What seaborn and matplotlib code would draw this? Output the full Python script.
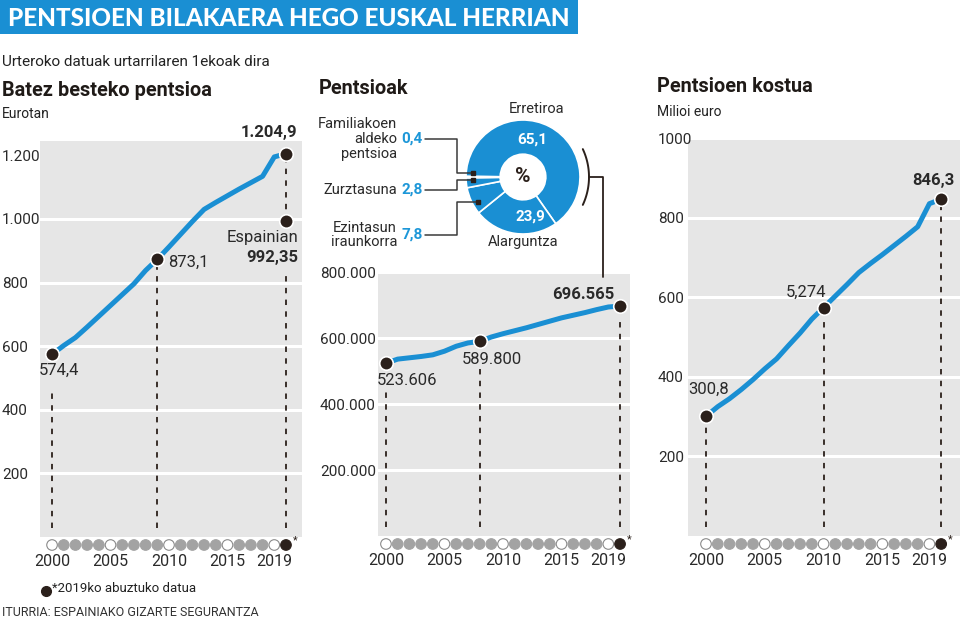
import numpy as np
import matplotlib
matplotlib.use("Agg")
import matplotlib.pyplot as plt
from matplotlib.lines import Line2D
from matplotlib.patches import Rectangle
import seaborn as sns


# -----------------------------
# DATA
# -----------------------------
year_pos = list(range(21))          # 2000 ... 2019 + 2019ko abuztua
tick_pos = [0, 5, 10, 15, 19]
tick_labels = ["2000", "2005", "2010", "2015", "2019"]
open_years = [0, 5, 10, 15, 19]
august_pos = 20

batez_besteko = [574.4, 602, 627, 660, 694, 728, 762, 796, 838, 873.1,
                 912, 952, 992, 1030, 1052, 1073, 1094, 1114, 1134, 1195, 1204.9]
espainia_2019 = 992.35

pentsioak = [523606, 536000, 540000, 544000, 549000, 560000, 575000, 585000,
             589800, 603000, 613000, 622000, 631000, 641000, 651000, 661000,
             669000, 677000, 686000, 694000, 696565]

kostua = [300.8, 325, 345, 368, 393, 420, 445, 478, 510, 545, 574,
          603, 632, 662, 685, 707, 730, 753, 777, 835, 846.3]

pie_labels = ["Erretiroa", "Alarguntza", "Ezintasun iraunkorra",
              "Zurztasuna", "Familiakoen aldeko pentsioa"]
pie_values = [65.1, 23.9, 7.8, 2.8, 0.4]


# -----------------------------
# STYLE
# -----------------------------
sns.set_theme(style="white")
plt.rcParams['font.family'] = ['Roboto', 'DejaVu Sans']
NARROW = ['Roboto', 'DejaVu Sans']

BLUE = '#1a8fd3'
DARK = '#2b201b'
BG = '#e6e6e6'
GRAY_DOT = '#a3a3a3'
TXT = '#2a2a2a'

W, H = 960, 622
fig = plt.figure(figsize=(9.6, 6.22), dpi=100)


def fx(x):
    return x / W


def fy(y):
    return 1 - y / H


def add_ax(left, top, right, bottom):
    return fig.add_axes([left / W, 1 - bottom / H, (right - left) / W, (bottom - top) / H])


def ftext(x, y, s, **kw):
    fig.text(fx(x), fy(y), s, **kw)


def fline(xs, ys, **kw):
    fig.add_artist(Line2D([fx(v) for v in xs], [fy(v) for v in ys],
                          transform=fig.transFigure, **kw))


def setup_panel(ax, values, ylim, yticks, ylabels, xlim, ypad, top_grid=True):
    sns.lineplot(x=year_pos, y=values, ax=ax, color=BLUE, lw=3.6,
                 solid_capstyle='butt', zorder=3)
    ax.set_facecolor(BG)
    ax.set_xlim(*xlim)
    ax.set_ylim(*ylim)
    ax.set_yticks(yticks)
    ax.set_yticklabels(ylabels, family=NARROW, fontsize=11, color=TXT)
    for lab in ax.get_yticklabels():
        lab.set_ha('left')
    ax.set_xticks(tick_pos)
    ax.set_xticklabels(tick_labels, family=NARROW, fontsize=11.5, color=TXT)
    ax.tick_params(axis='y', length=0, pad=ypad)
    ax.tick_params(axis='x', length=0, pad=12)
    ax.grid(axis='y', color='white', lw=2.2)
    ax.grid(axis='x', visible=False)
    if not top_grid:
        ax.yaxis.get_gridlines()[-1].set_visible(False)
    for s in ax.spines.values():
        s.set_visible(False)
    ax.set_xlabel("")
    ax.set_ylabel("")

    # year dots under the axis
    h_px = ax.get_position().height * H
    trans = ax.get_xaxis_transform()
    colors, edges = [], []
    for p in year_pos:
        if p == august_pos:
            colors.append(DARK)
            edges.append(DARK)
        elif p in open_years:
            colors.append('white')
            edges.append('#8a8a8a')
        else:
            colors.append(GRAY_DOT)
            edges.append(GRAY_DOT)
    ax.scatter(year_pos, [-8 / h_px] * len(year_pos), s=58, c=colors,
               edgecolors=edges, linewidths=0.8, transform=trans, clip_on=False, zorder=5)
    ax.text(august_pos + 0.55, -3 / h_px, "*", transform=trans, fontsize=8,
            ha='left', va='center', color=DARK)


def dot(ax, x, y):
    ax.scatter([x], [y], s=95, color=DARK, edgecolors='white', linewidths=1.2, zorder=6)


def vdash(ax, x, y0, y1):
    ax.vlines(x, y0, y1, colors=DARK, linestyles=(0, (3, 3.5)), lw=1.3, zorder=2)


def label(ax, x, y, s, dx, dy, bold=False, ha='center', color=TXT):
    ax.annotate(s, (x, y), xytext=(dx * 0.72, -dy * 0.72), textcoords='offset points',
                ha=ha, va='center', fontsize=12, family=NARROW,
                fontweight='bold' if bold else 'normal', color=color, zorder=7)


# -----------------------------
# HEADER
# -----------------------------
fig.add_artist(Rectangle((0, fy(34)), fx(578), 34 / H, transform=fig.transFigure,
                         color=BLUE, lw=0))
ftext(8, 18, "PENTSIOEN BILAKAERA HEGO EUSKAL HERRIAN", color='white',
      fontsize=17.5, fontweight='black', va='center', ha='left', family=['Lato', 'Roboto'])
ftext(2, 62, "Urteroko datuak urtarrilaren 1ekoak dira", fontsize=11,
      va='center', color='#222222')
ftext(2, 90, "Batez besteko pentsioa", fontsize=14.3, fontweight='bold', va='center', color='#1f1a17')
ftext(2, 114, "Eurotan", fontsize=10, va='center', color='#222222')
ftext(319, 88, "Pentsioak", fontsize=14.3, fontweight='bold', va='center', color='#1f1a17')
ftext(657, 87, "Pentsioen kostua", fontsize=14.3, fontweight='bold', va='center', color='#1f1a17')
ftext(657, 112, "Milioi euro", fontsize=10, va='center', color='#222222')


# -----------------------------
# PANEL 1: BATEZ BESTEKO PENTSIOA
# -----------------------------
ax1 = add_ax(40, 141, 302, 537)
setup_panel(ax1, batez_besteko, (0, 1245), [200, 400, 600, 800, 1000, 1200],
            ["200", "400", "600", "800", "1.000", "1.200"], (-1.03, 21.37), 27.5,
            top_grid=False)
vdash(ax1, 0, 28, 456)
vdash(ax1, 9, 28, batez_besteko[9])
vdash(ax1, 20, 28, 840)
vdash(ax1, 20, espainia_2019, batez_besteko[20])
for p in [0, 9, 20]:
    dot(ax1, p, batez_besteko[p])
dot(ax1, 20, espainia_2019)
label(ax1, 0, batez_besteko[0], "574,4", 7, 16)
label(ax1, 9, batez_besteko[9], "873,1", 11, 3, ha='left')
label(ax1, 20, batez_besteko[20], "1.204,9", -17, -21, bold=True)
label(ax1, 20, espainia_2019, "Espainian", 12, 16, ha='right')
label(ax1, 20, espainia_2019, "992,35", 12, 36, ha='right', bold=True)


# -----------------------------
# PANEL 2: PENTSIOAK
# -----------------------------
ax2 = add_ax(378, 272, 630, 536)
setup_panel(ax2, pentsioak, (0, 800000), [200000, 400000, 600000, 800000],
            ["200.000", "400.000", "600.000", "800.000"], (-0.68, 20.85), 41.8)
vdash(ax2, 0, 27000, 439000)
vdash(ax2, 8, 27000, 506000)
vdash(ax2, 20, 27000, 657000)
for p in [0, 8, 20]:
    dot(ax2, p, pentsioak[p])
label(ax2, 0, pentsioak[0], "523.606", 21, 17)
label(ax2, 8, pentsioak[8], "589.800", 12, 18)
label(ax2, 20, pentsioak[20], "696.565", -37, -12, bold=True)


# -----------------------------
# PANEL 3: PENTSIOEN KOSTUA
# -----------------------------
ax3 = add_ax(688, 138, 960, 536)
setup_panel(ax3, kostua, (0, 1000), [200, 400, 600, 800, 1000],
            ["200", "400", "600", "800", "1000"], (-1.53, 21.6), 21.6)
vdash(ax3, 0, 23, kostua[0])
vdash(ax3, 10, 23, kostua[10])
vdash(ax3, 20, 23, kostua[20])
for p in [0, 10, 20]:
    dot(ax3, p, kostua[p])
label(ax3, 0, kostua[0], "300,8", 3, -27)
label(ax3, 10, kostua[10], "5,274", -18, -15)
label(ax3, 20, kostua[20], "846,3", -8, -19, bold=True)


# -----------------------------
# DONUT: PENTSIO MOTAK
# -----------------------------
axp = add_ax(466, 120, 580, 234)
axp.pie(pie_values, startangle=179.4, counterclock=False, colors=[BLUE] * len(pie_values),
        wedgeprops=dict(width=0.6, edgecolor='white', linewidth=1.2))
axp.set_xlim(-1, 1)
axp.set_ylim(-1, 1)
axp.set_aspect('equal')
axp.axis('off')

ftext(537, 109, pie_labels[0], fontsize=10.5, ha='center', va='center', family=NARROW, color=TXT)
ftext(523, 242, pie_labels[1], fontsize=10.5, ha='center', va='center', family=NARROW, color=TXT)
ftext(532, 140, "65,1", fontsize=11, fontweight='bold', color='white', ha='center', va='center', family=NARROW)
ftext(530, 217, "23,9", fontsize=11, fontweight='bold', color='white', ha='center', va='center', family=NARROW)
ftext(523, 176, "%", fontsize=15, fontweight='bold', color=DARK, ha='center', va='center')

left_kw = dict(fontsize=10.5, ha='right', va='center', family=NARROW, color=TXT, linespacing=1.05)
num_kw = dict(fontsize=11, ha='left', va='center', family=NARROW, color='#1d97d8', fontweight='bold')
ftext(397, 139, "Familiakoen\naldeko\npentsioa", **left_kw)
ftext(401, 139, "0,4", **num_kw)
ftext(397, 190, "Zurztasuna", **left_kw)
ftext(401, 190, "2,8", **num_kw)
ftext(397, 235, "Ezintasun\niraunkorra", **left_kw)
ftext(401, 235, "7,8", **num_kw)

lk = dict(color='#3a3a3a', lw=1.1)
fline([425, 457, 457, 473], [139, 139, 173, 173], **lk)
fline([425, 457, 457, 473], [190, 190, 180, 180], **lk)
fline([425, 457, 457, 478], [235, 235, 202, 202], **lk)
for (sx, sy) in [(473, 173), (473, 180), (478, 202)]:
    fline([sx], [sy], marker='s', markersize=3.5, color=DARK, lw=0)

# bracket towards the 2019 total
ang = np.linspace(np.radians(-25), np.radians(25), 40)
fline(523 + 66 * np.cos(ang), 177 - 66 * np.sin(ang), color=DARK, lw=1.4)
fline([589, 603, 603], [177, 177, 277], color=DARK, lw=1.3)


# -----------------------------
# FOOTER
# -----------------------------
fline([46], [591], marker='o', markersize=7, color=DARK, lw=0)
ftext(52, 589, "*2019ko abuztuko datua", fontsize=9.5, family=NARROW, va='center', color='#222222')
ftext(2, 613, "ITURRIA: ESPAINIAKO GIZARTE SEGURANTZA", fontsize=9,
      va='center', color='#333333')

fig.savefig("out.png", dpi=100)
